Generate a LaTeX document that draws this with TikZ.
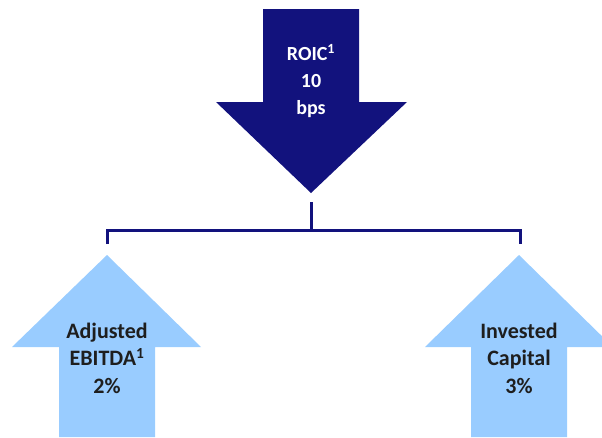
\documentclass[tikz,border=0pt]{standalone}
\usepackage{fontspec}
\setmainfont{Carlito}
\definecolor{navyarrow}{RGB}{18,18,125}
\definecolor{lightarrow}{RGB}{153,204,255}
\definecolor{darktext}{RGB}{30,30,30}
\begin{document}
\begin{tikzpicture}[x=1pt,y=-1pt,
  bigarrowdown/.style={fill=navyarrow,draw=none},
  bigarrowup/.style={fill=lightarrow,draw=none},
  label/.style={align=center,inner sep=0pt},
  toplabel/.style={label,text=white,font=\fontsize{20}{26.8}\selectfont\bfseries},
  lowlabel/.style={label,text=darktext,font=\fontsize{22}{27.5}\selectfont\bfseries},
  connector/.style={draw=navyarrow,line width=3pt,line join=miter,line cap=butt}]
\useasboundingbox (0,0) rectangle (602,437);
% top arrow (down)
\fill[bigarrowdown] (263,9) -- (359,9) -- (359,102) -- (407,102) -- (311,193) -- (216,102) -- (263,102) -- cycle;
\node[toplabel] (roic) at (311,81) {ROIC\textsuperscript{1}\\10\\bps};
% left arrow (up)
\fill[bigarrowup] (107,255) -- (201,347) -- (155,347) -- (155,437) -- (59,437) -- (59,347) -- (12,347) -- cycle;
\node[lowlabel] (ebitda) at (107,358) {Adjusted\\EBITDA\textsuperscript{1}\\2\%};
% right arrow (up)
\fill[bigarrowup] (519,255) -- (602,336.2) -- (602,347) -- (567,347) -- (567,437) -- (471,437) -- (471,347) -- (425,347) -- cycle;
\node[lowlabel] (capital) at (519,358) {Invested\\Capital\\3\%};
% connector points
\coordinate (stemtop) at (311,202);
\coordinate (busmid) at (311,230);
\coordinate (busL) at (107,230);
\coordinate (busR) at (520,230);
\coordinate (dropL) at (107,244);
\coordinate (dropR) at (520,244);
\draw[connector] (stemtop) -- (busmid);
\draw[connector] (dropL) -- (busL) -- (busR) -- (dropR);
\end{tikzpicture}
\end{document}
